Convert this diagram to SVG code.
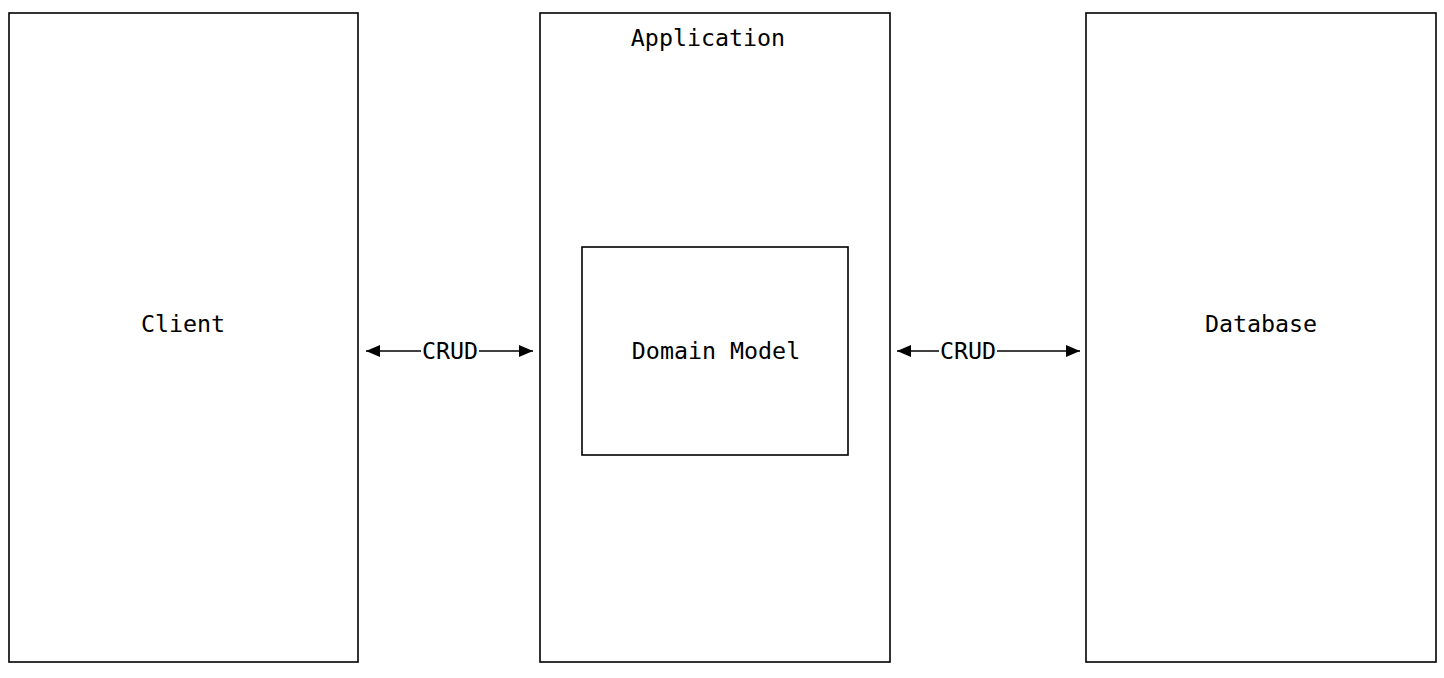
<svg xmlns="http://www.w3.org/2000/svg" width="1444" height="678" viewBox="0 0 1444 678">
<style>
.box{fill:none;stroke:#000;stroke-width:1.6}
.t{font-family:"DejaVu Sans Mono","Liberation Mono",monospace;font-size:23.3px;fill:#000;text-anchor:middle}
.c{stroke:#000;stroke-width:1.6;fill:none}
</style>
<defs>
<marker id="ah" viewBox="0 0 14 12" refX="14" refY="6" markerWidth="14" markerHeight="12" markerUnits="userSpaceOnUse" orient="auto-start-reverse">
<path d="M0,0 L14,6 L0,12 Z" fill="#000"/>
</marker>
</defs>
<rect width="1444" height="678" fill="#fff"/>
<g id="client"><rect class="box" x="9" y="13" width="349" height="649"/><text class="t" x="183" y="332">Client</text></g>
<g id="application"><rect class="box" x="540" y="13" width="350" height="649"/><text class="t" x="708" y="46">Application</text></g>
<g id="domain-model"><rect class="box" x="582" y="247" width="266" height="208"/><text class="t" x="716" y="359">Domain Model</text></g>
<g id="database"><rect class="box" x="1086" y="13" width="350" height="649"/><text class="t" x="1261" y="332">Database</text></g>
<g id="connectors">
<line class="c" x1="366" y1="351" x2="421" y2="351" marker-start="url(#ah)"/>
<line class="c" x1="479" y1="351" x2="533" y2="351" marker-end="url(#ah)"/>
<text class="t" x="450" y="359">CRUD</text>
<line class="c" x1="897" y1="351" x2="939" y2="351" marker-start="url(#ah)"/>
<line class="c" x1="997" y1="351" x2="1080" y2="351" marker-end="url(#ah)"/>
<text class="t" x="968" y="359">CRUD</text>
</g>
</svg>
